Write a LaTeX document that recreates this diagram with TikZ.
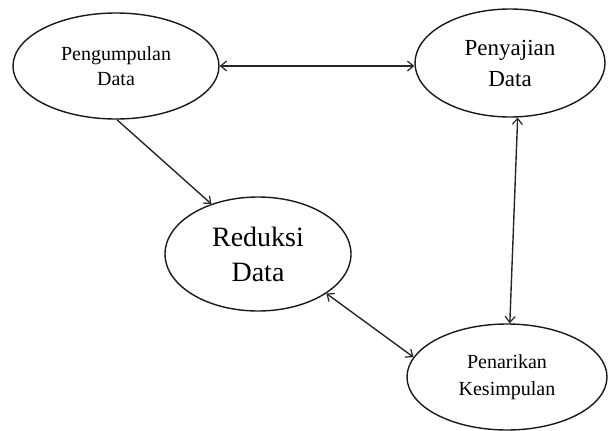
\documentclass[tikz,border=0pt]{standalone}
\usepackage{fontspec}
\setmainfont{Liberation Serif}
\usetikzlibrary{shapes.geometric,arrows.meta}
\begin{document}
\begin{tikzpicture}[x=1pt,y=-1pt,
  oval/.style={draw=black!90,line width=1.4pt,ellipse,inner sep=0pt,align=center,text=black},
  conn/.style={draw=black!85,line width=1.4pt},
  tip/.tip={Straight Barb[length=6pt,width=10pt,line width=1.2pt]}]
\useasboundingbox (0,0) rectangle (608,431);
\node[oval,minimum width=206pt,minimum height=106pt,font=\fontsize{20}{24.5}\selectfont] (p1) at (116,66) {Pengumpulan\\Data};
\node[oval,minimum width=190pt,minimum height=108pt,font=\fontsize{23}{31}\selectfont] (p2) at (510,63) {Penyajian\\Data};
\node[oval,minimum width=186pt,minimum height=114pt,font=\fontsize{28}{35}\selectfont] (r) at (258,254) {Reduksi\\Data};
\node[oval,minimum width=200pt,minimum height=106pt,font=\fontsize{20}{27}\selectfont] (p4) at (507,377) {Penarikan\\Kesimpulan};
\draw[conn,tip-tip] (p1.0) -- (p2.west |- p1.0);
\draw[conn,-tip] (p1.-89) -- (r.133);
\draw[conn,tip-tip] (p2.-82) -- (p4.87);
\draw[conn,tip-tip] (r.-30) -- (p4.168.6);
\end{tikzpicture}
\end{document}
